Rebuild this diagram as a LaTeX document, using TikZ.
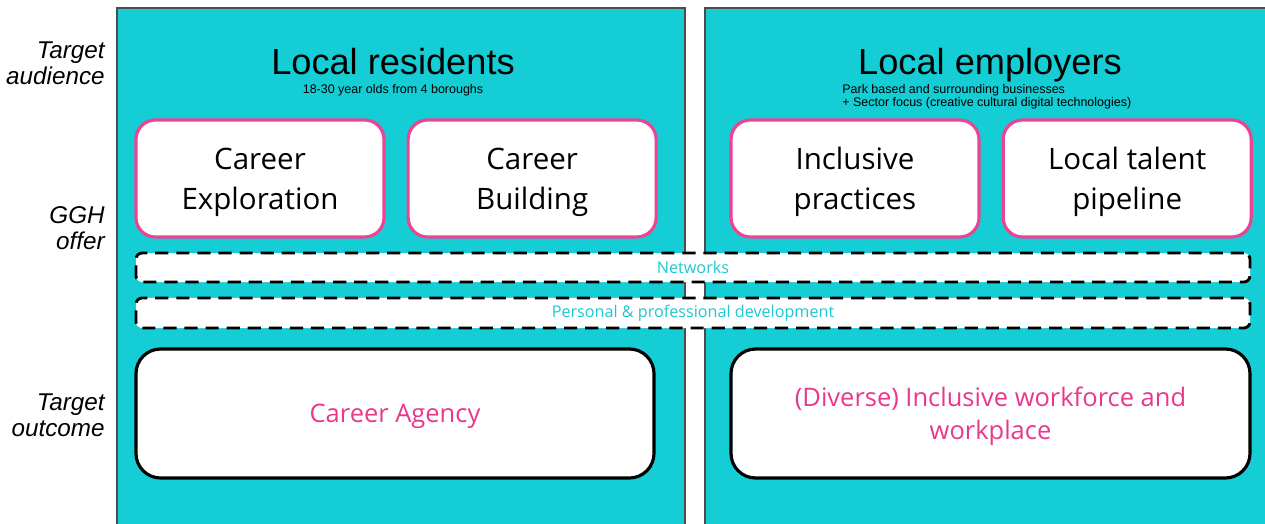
\documentclass[tikz,border=0pt]{standalone}
\usepackage{fontspec}
\usetikzlibrary{positioning}
\newfontfamily\headfont{Liberation Sans}
\newfontfamily\boxfont{Open Sans}
\definecolor{panelcyan}{HTML}{14CDD5}
\definecolor{offerpink}{HTML}{EC4393}
\definecolor{goalpink}{HTML}{E9388C}
\definecolor{bandtext}{HTML}{1FC8D0}
\tikzset{
	row_label/.style = {
		align=right,
		anchor=east,
		inner sep=0pt,
		font=\headfont\itshape\fontsize{13.8}{14.6}\selectfont
	},
	panel/.style = {
		fill=panelcyan,
		draw=black!70,
		line width=0.6pt
	},
	group_title/.style = {
		inner sep=0pt,
		anchor=base,
		font=\headfont\fontsize{20.6}{24}\selectfont
	},
	group_note/.style = {
		inner sep=0pt,
		align=left,
		font=\headfont\fontsize{7.1}{7.5}\selectfont
	},
	node_offer/.style = {
		rectangle,
		rounded corners=11pt,
		align=center,
		fill=white,
		draw=offerpink,
		line width=1.8pt,
		minimum width=4.96cm,
		minimum height=2.34cm,
		text depth=0pt,
		font=\boxfont\fontsize{16.8}{22.7}\selectfont
	},
	node_band/.style = {
		rectangle,
		rounded corners=3.5pt,
		fill=white,
		draw=black,
		line width=1.6pt,
		dash pattern=on 7.5pt off 4.5pt,
		minimum width=22.28cm,
		inner sep=0pt,
		text=bandtext,
		font=\boxfont\fontsize{9.2}{11}\selectfont
	},
	node_goal/.style = {
		rectangle,
		rounded corners=14pt,
		align=center,
		fill=white,
		draw=black,
		line width=1.8pt,
		minimum height=2.58cm,
		text depth=0pt,
		text=goalpink,
		font=\boxfont\fontsize{14.5}{18.7}\selectfont
	},
}

\begin{document}
\begin{tikzpicture}
\useasboundingbox (0,0) rectangle (25.3,-10.48);
\fill[white] (0,0) rectangle (25.3,-10.48);

% the two audience panels
\draw[panel] (2.34,-0.16) rectangle (13.7,-10.7);
\draw[panel] (14.1,-0.16) rectangle (25.5,-10.7);

% row labels on the left
\node [row_label] (lab_aud) at (2.1,-1.26) {Target\\audience};
\node [row_label] (lab_offer) at (2.1,-4.56) {GGH\\offer};
\node [row_label] (lab_out) at (2.1,-8.3) {Target\\outcome};

% residents
\node [group_title] (res) at (7.86,-1.49) {Local residents};
\node [group_note, anchor=north] (res_note) at (7.86,-1.68) {18-30 year olds from 4 boroughs};
\node [node_offer] (explore) at (5.2,-3.57) {Career\\Exploration};
\node [node_offer, right=0.42cm of explore] (build) {Career\\Building};

% employers
\node [group_title] (emp) at (19.8,-1.49) {Local employers};
\node [group_note, anchor=north west] (emp_note) at (16.84,-1.68)
	{Park based and surrounding businesses\\+ Sector focus (creative cultural digital technologies)};
\node [node_offer] (incl) at (17.1,-3.57) {Inclusive\\practices};
\node [node_offer, right=0.42cm of incl] (talent) {Local talent\\pipeline};

% shared offer across both panels
\node [node_band, minimum height=0.58cm] (net) at (13.86,-5.35) {Networks};
\node [node_band, minimum height=0.6cm] (dev) at (13.86,-6.26) {Personal \& professional development};

% outcomes
\node [node_goal, minimum width=10.36cm] (agency) at (7.9,-8.27) {Career Agency};
\node [node_goal, minimum width=10.38cm] (workforce) at (19.81,-8.27) {(Diverse) Inclusive workforce and\\workplace};
\end{tikzpicture}
\end{document}
